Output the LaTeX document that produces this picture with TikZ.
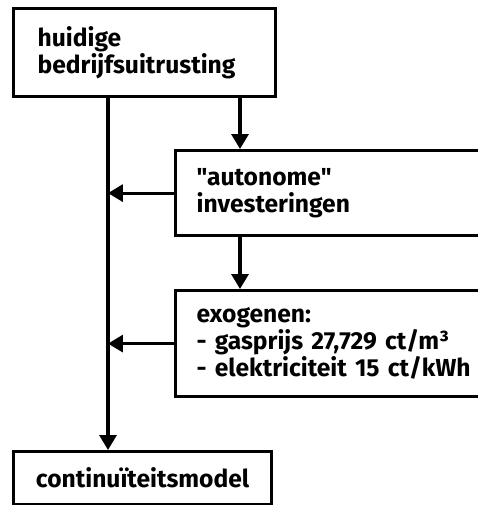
\documentclass[tikz,border=0pt]{standalone}
\usepackage{fontspec}
\setmainfont{Fira Sans}[Ligatures=TeXOff]
\usetikzlibrary{arrows.meta}
\tikzset{%
	box/.style = { draw, line width=2.3pt, anchor=north west, font=\bfseries\fontsize{17.5}{19.5}\selectfont },
	lbox/.style = { box, align=left },
	cbox/.style = { box, align=center },
	krap/.style = { font=\bfseries\fontsize{17.5}{15.6}\selectfont },
	arr/.style = { line width=2.3pt, -{Triangle[length=0.37cm,width=0.42cm]} }
}

\begin{document}
\begin{tikzpicture}[x=0.025cm, y=-0.025cm]
	\useasboundingbox (0,0) rectangle (478,505);
	\clip (0,0) rectangle (478,505);
	% hulplijnen voor de pijlen
	\coordinate (stam) at (108,0);
	\coordinate (pijl) at (240,0);

	% blokken
	\node[lbox, text width=214*0.025cm, inner xsep=24*0.025cm, minimum height=88*0.025cm] (huidig) at (12,7) {huidige\\bedrijfsuitrusting};
	\node[lbox, text width=284*0.025cm, inner xsep=21*0.025cm, minimum height=85*0.025cm] (auto) at (174,149) {"autonome"\\investeringen};
	\node[lbox, krap, text width=284*0.025cm, inner xsep=21*0.025cm, minimum height=106*0.025cm] (exo) at (174,289) {exogenen:\\- gasprijs 27,729 ct/m³\\- elektriciteit 15 ct/kWh};
	\node[cbox, text width=214*0.025cm, inner xsep=22*0.025cm, minimum height=53*0.025cm] (model) at (12,450) {continuïteitsmodel};

	% pijlen
	\draw[arr] (huidig.south -| stam) -- (model.north -| stam);
	\draw[arr] (huidig.south -| pijl) -- (auto.north -| pijl);
	\draw[arr] (auto.south -| pijl) -- (exo.north -| pijl);
	\draw[arr] (auto.west) -- (auto.west -| stam);
	\draw[arr] (exo.west) -- (exo.west -| stam);
\end{tikzpicture}
\end{document}
